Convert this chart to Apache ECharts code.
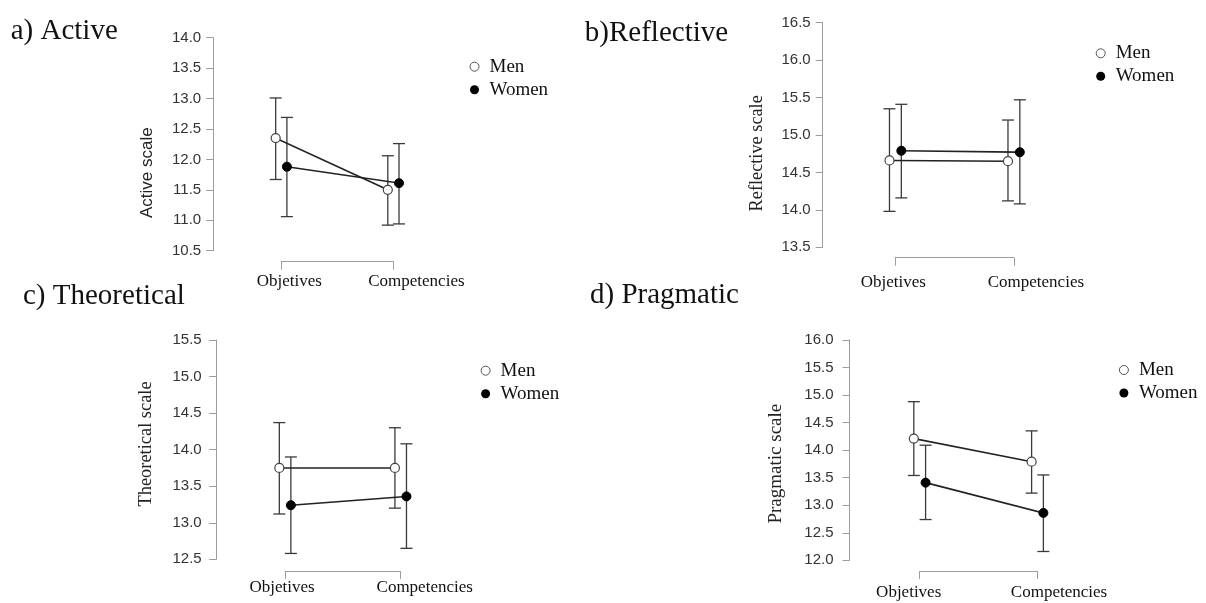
<!DOCTYPE html>
<html><head><meta charset="utf-8">
<script src="https://cdn.jsdelivr.net/npm/echarts@6/dist/echarts.min.js"></script>
<style>html,body{margin:0;padding:0;background:#fff}#c{width:1206px;height:603px}</style>
</head><body><div id="c"></div>
<script>
// ---------- data ----------
const categories = ['Objetives', 'Competencies'];
const groups = ['Men', 'Women'];
const panelTitles = ['a) Active', 'b)Reflective', 'c) Theoretical', 'd) Pragmatic'];
const axisNames = ['Active scale', 'Reflective scale', 'Theoretical scale', 'Pragmatic scale'];
const yMin = [10.5, 13.5, 12.5, 12.0];
const yMax = [14.0, 16.5, 15.5, 16.0];
const yStep = [0.5, 0.5, 0.5, 0.5];

const activeMen = [12.35, 11.50];
const activeMenLow = [11.67, 10.92];
const activeMenHigh = [13.01, 12.06];
const activeWomen = [11.88, 11.61];
const activeWomenLow = [11.06, 10.94];
const activeWomenHigh = [12.69, 12.26];

const reflectiveMen = [14.66, 14.65];
const reflectiveMenLow = [13.98, 14.12];
const reflectiveMenHigh = [15.35, 15.20];
const reflectiveWomen = [14.79, 14.77];
const reflectiveWomenLow = [14.16, 14.08];
const reflectiveWomenHigh = [15.41, 15.47];

const theoreticalMen = [13.75, 13.75];
const theoreticalMenLow = [13.12, 13.20];
const theoreticalMenHigh = [14.37, 14.30];
const theoreticalWomen = [13.24, 13.36];
const theoreticalWomenLow = [12.58, 12.65];
const theoreticalWomenHigh = [13.90, 14.08];

const pragmaticMen = [14.21, 13.79];
const pragmaticMenLow = [13.54, 13.22];
const pragmaticMenHigh = [14.88, 14.35];
const pragmaticWomen = [13.41, 12.86];
const pragmaticWomenLow = [12.74, 12.16];
const pragmaticWomenHigh = [14.09, 13.55];

const panelData = [
  { Men: [activeMen, activeMenLow, activeMenHigh], Women: [activeWomen, activeWomenLow, activeWomenHigh] },
  { Men: [reflectiveMen, reflectiveMenLow, reflectiveMenHigh], Women: [reflectiveWomen, reflectiveWomenLow, reflectiveWomenHigh] },
  { Men: [theoreticalMen, theoreticalMenLow, theoreticalMenHigh], Women: [theoreticalWomen, theoreticalWomenLow, theoreticalWomenHigh] },
  { Men: [pragmaticMen, pragmaticMenLow, pragmaticMenHigh], Women: [pragmaticWomen, pragmaticWomenLow, pragmaticWomenHigh] }
];

// ---------- layout / style ----------
const DODGE = 0.05;
const layout = [
  { left: 281.3, right: 393.4, top: 37.7, bottom: 250.7, axisX: 213.2, bracketY: 261.7, yLabMargin: 12,
    xLabMargin: 10, shifts: [8, 23], tX: 10.7, tY: 31.7, nameGap: 57.4, namePad: [0, 57, 0, 0],
    nameFont: 'Liberation Sans', nameSize: 17, legX: 479.5, legY: 66.7 },
  { left: 895.4, right: 1013.9, top: 22.7, bottom: 247.3, axisX: 822.7, bracketY: 257.7, yLabMargin: 12,
    xLabMargin: 15, shifts: [-2, 22], tX: 584.8, tY: 33, nameGap: 57, namePad: [0, 36.6, 0, 0],
    nameFont: 'Liberation Serif', nameSize: 18.3, legX: 1105.7, legY: 53.3 },
  { left: 285.1, right: 400.7, top: 340, bottom: 559.3, axisX: 216.2, bracketY: 571, yLabMargin: 14.5,
    xLabMargin: 7, shifts: [-3, 24], tX: 23, tY: 296, nameGap: 60.6, namePad: [0, 0, 0, 11.4],
    nameFont: 'Liberation Serif', nameSize: 18.4, legX: 490.6, legY: 370.7 },
  { left: 919.7, right: 1037.5, top: 340, bottom: 564, axisX: 849.5, bracketY: 574.7, yLabMargin: 16,
    xLabMargin: 12, shifts: [-11, 21.5], tX: 590, tY: 295, nameGap: 64.4, namePad: [0, 27, 0, 0],
    nameFont: 'Liberation Serif', nameSize: 19, legX: 1128.9, legY: 370 }
];

const AXIS_GRAY = '#9c9c9c';
const grids = [], xAxes = [], yAxes = [], series = [], legends = [], graphics = [];

function shiftPad(s) { return s >= 0 ? [0, 0, 0, 2 * s] : [0, -2 * s, 0, 0]; }

function renderErr(params, api) {
  const x = api.value(0), lo = api.value(1), hi = api.value(2);
  const t = api.coord([x, hi]), b = api.coord([x, lo]);
  const w = 6;
  const st = { stroke: '#3a3a3a', lineWidth: 1.3 };
  return {
    type: 'group',
    children: [
      { type: 'line', shape: { x1: t[0], y1: t[1], x2: b[0], y2: b[1] }, style: st },
      { type: 'line', shape: { x1: t[0] - w, y1: t[1], x2: t[0] + w, y2: t[1] }, style: st },
      { type: 'line', shape: { x1: b[0] - w, y1: b[1], x2: b[0] + w, y2: b[1] }, style: st }
    ]
  };
}

layout.forEach((L, i) => {
  grids.push({ left: L.left, top: L.top, width: L.right - L.left, height: L.bottom - L.top, containLabel: false });
  xAxes.push({
    type: 'value', gridIndex: i, min: 0, max: 1, interval: 1,
    offset: L.bracketY - L.bottom,
    axisLine: { show: true, onZero: false, lineStyle: { color: AXIS_GRAY, width: 1 } },
    axisTick: { show: true, length: 8, lineStyle: { color: AXIS_GRAY, width: 1 } },
    splitLine: { show: false },
    axisLabel: {
      margin: L.xLabMargin, color: '#111', fontFamily: 'Liberation Serif', fontSize: 17, lineHeight: 20,
      formatter: v => (v === 0 ? '{a|' + categories[0] + '}' : '{b|' + categories[1] + '}'),
      rich: {
        a: { fontFamily: 'Liberation Serif', fontSize: 17, color: '#111', lineHeight: 20, padding: shiftPad(L.shifts[0]) },
        b: { fontFamily: 'Liberation Serif', fontSize: 17, color: '#111', lineHeight: 20, padding: shiftPad(L.shifts[1]) }
      }
    }
  });
  yAxes.push({
    type: 'value', gridIndex: i, min: yMin[i], max: yMax[i], interval: yStep[i],
    offset: L.left - L.axisX,
    axisLine: { show: true, onZero: false, lineStyle: { color: AXIS_GRAY, width: 1 } },
    axisTick: { show: true, length: 7, lineStyle: { color: AXIS_GRAY, width: 1 } },
    splitLine: { show: false },
    axisLabel: { margin: L.yLabMargin, color: '#333', fontFamily: 'Liberation Sans', fontSize: 15,
      formatter: v => v.toFixed(1) },
    name: axisNames[i], nameLocation: 'middle', nameGap: L.nameGap,
    nameTextStyle: { fontFamily: L.nameFont, fontSize: L.nameSize, color: '#222', padding: L.namePad }
  });
  groups.forEach((g, gi) => {
    const [means, lows, highs] = panelData[i][g];
    const dx = gi === 0 ? -DODGE : DODGE;
    series.push({
      type: 'custom', xAxisIndex: i, yAxisIndex: i, clip: false, z: 2, silent: true,
      renderItem: renderErr, encode: { x: 0, y: [1, 2] },
      data: lows.map((lo, k) => [k + dx, lo, highs[k]])
    });
    series.push({
      type: 'line', name: g, xAxisIndex: i, yAxisIndex: i, clip: false, z: 3,
      data: means.map((v, k) => [k + dx, v]),
      symbol: 'circle', symbolSize: 9,
      itemStyle: gi === 0 ? { color: '#ffffff', borderColor: '#444', borderWidth: 1.2 } : { color: '#000', borderColor: '#000', borderWidth: 1 },
      lineStyle: { color: '#222', width: 1.6 }
    });
  });
  legends.push({
    orient: 'vertical', left: L.legX - 10, top: L.legY - 10, padding: 0, itemGap: 3,
    itemWidth: 20, itemHeight: 9, icon: 'circle', selectedMode: false,
    textStyle: { fontFamily: 'Liberation Serif', fontSize: 19, color: '#111', lineHeight: 20 },
    data: [
      { name: 'Men', itemStyle: { color: '#fff', borderColor: '#555', borderWidth: 1 } },
      { name: 'Women', itemStyle: { color: '#000', borderColor: '#000', borderWidth: 0 } }
    ]
  });
  graphics.push({
    type: 'text', x: L.tX, y: L.tY,
    style: { text: panelTitles[i], font: '29px "Liberation Serif"', fill: '#111', verticalAlign: 'middle' }
  });
});

const chart = echarts.init(document.getElementById('c'), null, { renderer: 'canvas' });
chart.setOption({
  animation: false,
  backgroundColor: '#ffffff',
  grid: grids, xAxis: xAxes, yAxis: yAxes, series: series, legend: legends, graphic: graphics
});
</script></body></html>
